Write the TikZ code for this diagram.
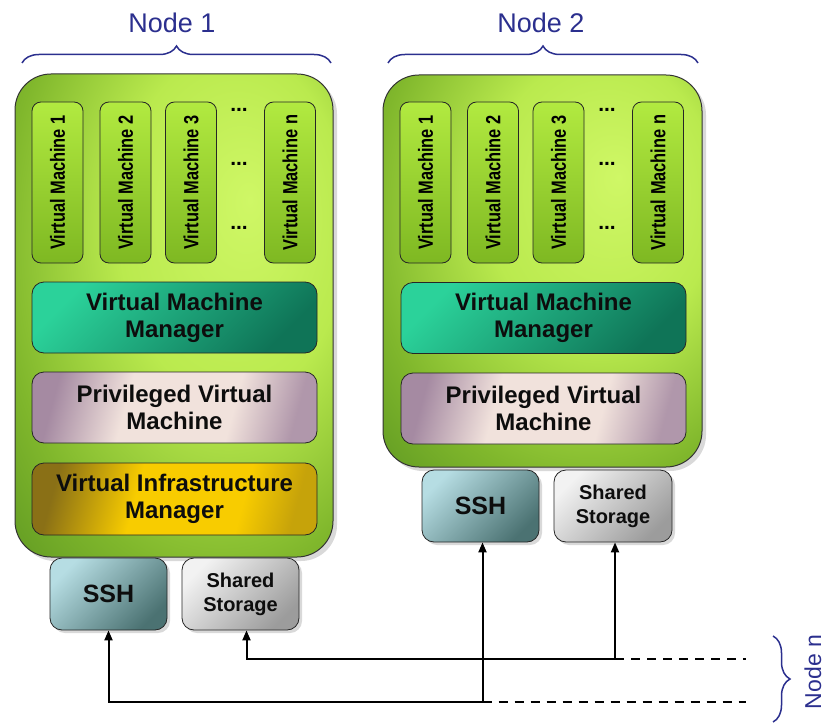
\documentclass[tikz,border=0pt]{standalone}
\usepackage{fontspec}
\setmainfont{Liberation Sans}
\usepackage{graphicx}
\usetikzlibrary{shadows,decorations.pathreplacing,arrows.meta,calc}
\definecolor{limeA}{HTML}{CFF766}
\definecolor{limeB}{HTML}{BAEA4E}
\definecolor{greenC}{HTML}{80B72C}
\definecolor{greenD}{HTML}{47831B}
\definecolor{vmtop}{HTML}{B2EA40}
\definecolor{vmbot}{HTML}{7EB822}
\definecolor{tealA}{HTML}{2BD29A}
\definecolor{tealB}{HTML}{0F7457}
\definecolor{pinkA}{HTML}{F1E2DC}
\definecolor{mauve}{HTML}{A58AA2}
\definecolor{goldA}{HTML}{F8CC00}
\definecolor{goldB}{HTML}{8A7016}
\definecolor{sshA}{HTML}{B6DDE3}
\definecolor{sshB}{HTML}{4B7272}
\definecolor{grayA}{HTML}{F2F2F2}
\definecolor{grayB}{HTML}{9C9C9C}
\definecolor{navy}{HTML}{2B2F8E}
\pgfdeclareradialshading{nodebg}{\pgfpoint{12bp}{12bp}}{color(0bp)=(limeA); color(18bp)=(limeB); color(34bp)=(greenC); color(52bp)=(greenD); color(80bp)=(greenD)}
\pgfdeclarehorizontalshading{pvmsh}{100bp}{color(0bp)=(mauve); color(25bp)=(mauve); color(40bp)=(pinkA); color(62bp)=(pinkA); color(75bp)=(mauve!85!pinkA); color(100bp)=(mauve!85!pinkA)}
\pgfdeclarehorizontalshading{vimsh}{100bp}{color(0bp)=(goldB); color(25bp)=(goldB); color(42bp)=(goldA); color(64bp)=(goldA); color(75bp)=(goldA!55!goldB); color(100bp)=(goldA!55!goldB)}
\newcommand\vmlab[1]{\rotatebox{90}{\scalebox{0.8}[1]{\fontsize{20.5}{24}\selectfont\bfseries #1}}}
\begin{document}
\begin{tikzpicture}[x=1pt,y=-1pt,
  nodebox/.style={draw=black!80, line width=1pt, rounded corners=36pt, shading=nodebg,
    drop shadow={shadow xshift=4pt, shadow yshift=-4pt, opacity=0.3}, inner sep=0pt},
  vmbox/.style={draw=black!85, line width=0.8pt, rounded corners=9pt, minimum width=51pt,
    minimum height=161pt, top color=vmtop, bottom color=vmbot, inner sep=0pt},
  layerbox/.style={draw=black!85, line width=0.8pt, rounded corners=12pt, minimum width=285pt,
    minimum height=71pt, align=center, inner sep=0pt, text=black!95,
    font=\fontsize{24}{27}\selectfont\bfseries},
  smallbox/.style={draw=black!85, line width=0.8pt, rounded corners=12pt, minimum width=117pt,
    minimum height=72pt, align=center, inner sep=0pt, text=black!95,
    drop shadow={shadow xshift=3pt, shadow yshift=-3pt, opacity=0.3}},
  vmmstyle/.style={layerbox, top color=tealA, bottom color=tealB, shading angle=45},
  pvmstyle/.style={layerbox, shading=pvmsh, shading angle=-15},
  vimstyle/.style={layerbox, shading=vimsh, shading angle=-15},
  sshstyle/.style={smallbox, top color=sshA, bottom color=sshB, shading angle=45,
    font=\fontsize{25}{28}\selectfont\bfseries},
  storstyle/.style={smallbox, top color=grayA, bottom color=grayB, shading angle=45,
    font=\fontsize{20}{24}\selectfont\bfseries},
  dotsstyle/.style={inner sep=0pt, font=\fontsize{21}{22}\selectfont\bfseries},
  nodelab/.style={inner sep=0pt, text=navy, font=\fontsize{27}{30}\selectfont},
  bracestyle/.style={draw=navy, line width=1.5pt, decorate, decoration={brace, amplitude=17pt}},
  conn/.style={draw=black, line width=2pt},
  tip/.style={-{Triangle[length=10pt,width=8pt]}},
  dashline/.style={draw=black, line width=2pt, dash pattern=on 9pt off 7pt}
]
\useasboundingbox (0,0) rectangle (826,722);

% labels and braces
\node[nodelab] (lab1) at (172,23) {Node 1};
\node[nodelab] (lab2) at (541,23) {Node 2};
\coordinate (b1a) at (22,63);
\coordinate (b1b) at (331,63);
\coordinate (b2a) at (388,63);
\coordinate (b2b) at (698,63);
\coordinate (bna) at (773,636);
\coordinate (bnb) at (773,722);
\draw[bracestyle] (b1a) -- (b1b);
\draw[bracestyle] (b2a) -- (b2b);
\draw[bracestyle] (bna) -- (bnb);
\node[nodelab, rotate=90, font=\fontsize{23}{26}\selectfont] (labn) at (813,672) {Node n};

% node containers
\node[nodebox, minimum width=318pt, minimum height=483pt] (node1) at (174,315.5) {};
\node[nodebox, minimum width=319pt, minimum height=392pt] (node2) at (542.5,271) {};

% virtual machines node 1
\node[vmbox] (n1vm1) at (57.5,182.5) {\vmlab{Virtual Machine 1}};
\node[vmbox] (n1vm2) at (125.5,182.5) {\vmlab{Virtual Machine 2}};
\node[vmbox] (n1vm3) at (191,182.5) {\vmlab{Virtual Machine 3}};
\node[vmbox] (n1vmn) at (290,182.5) {\vmlab{Virtual Machine n}};
\node[dotsstyle] (n1d1) at (239,110) {...};
\node[dotsstyle] (n1d2) at (239,164) {...};
\node[dotsstyle] (n1d3) at (239,228) {...};

% virtual machines node 2
\node[vmbox] (n2vm1) at (425.5,182.5) {\vmlab{Virtual Machine 1}};
\node[vmbox] (n2vm2) at (493,182.5) {\vmlab{Virtual Machine 2}};
\node[vmbox] (n2vm3) at (558.5,182.5) {\vmlab{Virtual Machine 3}};
\node[vmbox] (n2vmn) at (658,182.5) {\vmlab{Virtual Machine n}};
\node[dotsstyle] (n2d1) at (607,110) {...};
\node[dotsstyle] (n2d2) at (607,164) {...};
\node[dotsstyle] (n2d3) at (607,228) {...};

% layers
\node[vmmstyle] (n1vmm) at (174.5,317.5) {Virtual Machine\\Manager};
\node[pvmstyle] (n1pvm) at (174.5,407.5) {Privileged Virtual\\Machine};
\node[vimstyle, minimum height=72pt] (n1vim) at (174.5,499) {Virtual Infrastructure\\Manager};
\node[vmmstyle] (n2vmm) at (543.5,318) {Virtual Machine\\Manager};
\node[pvmstyle] (n2pvm) at (543.5,408.5) {Privileged Virtual\\Machine};

% services
\node[sshstyle] (ssh1) at (108.5,594) {SSH};
\node[storstyle] (sto1) at (240.5,594) {Shared\\Storage};
\node[sshstyle] (ssh2) at (480.5,506) {SSH};
\node[storstyle, minimum width=118pt] (sto2) at (613,506) {Shared\\Storage};

% connectors
\coordinate (j1) at (482.5,702);
\coordinate (j2) at (615,659);
\coordinate (e1) at (746,702);
\coordinate (e2) at (746,659);
\draw[conn, tip] (j1) -| (ssh1.south);
\draw[conn, tip] (j2) -| ([xshift=6pt]sto1.south);
\draw[conn, tip] (j1) -- (j1 |- ssh2.south);
\draw[conn, tip] (j2) -- (j2 |- sto2.south);
\draw[dashline] (j1) -- (e1);
\draw[dashline] (j2) -- (e2);
\end{tikzpicture}
\end{document}
